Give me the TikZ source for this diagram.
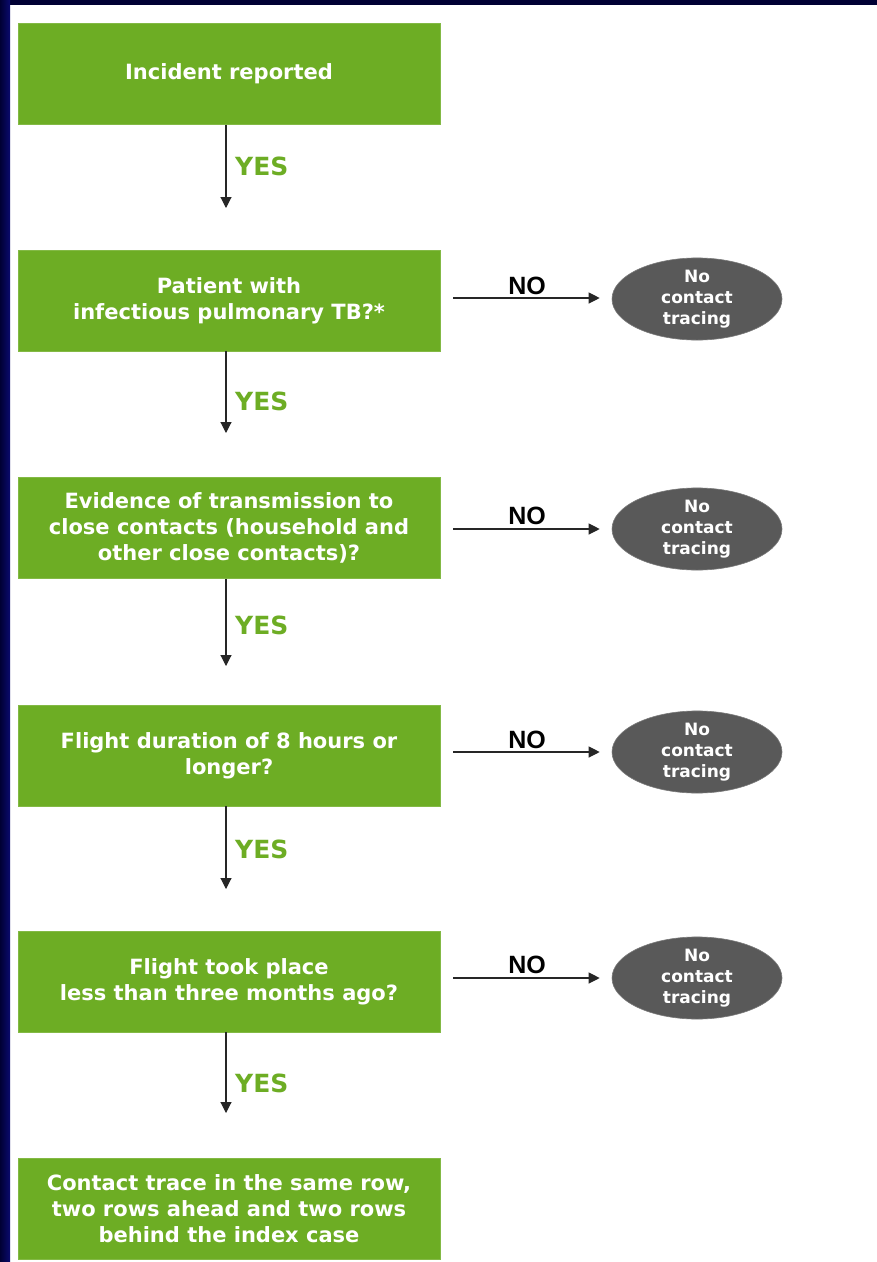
\documentclass[tikz,border=0pt]{standalone}
\usepackage{fontspec}
\setmainfont{DejaVu Sans}
\newfontfamily\labelfont{Liberation Sans}
\usetikzlibrary{arrows.meta,shapes.geometric}
\definecolor{boxgreen}{RGB}{109,173,36}
\definecolor{ovalgrey}{RGB}{89,89,89}
\definecolor{frameblue}{RGB}{0,0,52}
\tikzset{
  stepbox/.style={rectangle, fill=boxgreen, draw=boxgreen!85!white, line width=0.6pt,
    minimum width=422pt, minimum height=101pt, text=white, align=center,
    font=\fontsize{21}{26}\selectfont\bfseries, inner sep=0pt},
  endoval/.style={ellipse, fill=ovalgrey, draw=ovalgrey!80!white, line width=0.6pt,
    minimum width=170pt, minimum height=74pt, text=white, align=center,
    font=\fontsize{17}{21}\selectfont\bfseries, inner sep=0pt},
  flow/.style={draw=black!85, line width=1.1pt, -{Triangle[length=11pt,width=11pt]}},
  yeslabel/.style={text=boxgreen, font=\fontsize{25}{25}\selectfont\bfseries, anchor=west, inner sep=0pt},
  nolabel/.style={text=black, font=\labelfont\fontsize{25}{25}\selectfont\bfseries, inner sep=0pt}
}
\begin{document}
\begin{tikzpicture}[x=1pt,y=-1pt]
\useasboundingbox (0,0) rectangle (877,1262);
\fill[white] (0,0) rectangle (877,1262);
% dark frame along the top and left edges
\fill[frameblue] (0,0) rectangle (877,5);
\shade[left color=frameblue, right color={rgb,255:red,10;green,10;blue,110}] (0,0) rectangle (10,1262);

% decision boxes
\node[stepbox] (b1) at (229,74) {Incident reported};
\node[stepbox] (b2) at (229,300.5) {Patient with\\infectious pulmonary TB?*};
\node[stepbox] (b3) at (229,528) {Evidence of transmission to\\close contacts (household and\\other close contacts)?};
\node[stepbox] (b4) at (229,755.5) {Flight duration of 8 hours or\\longer?};
\node[stepbox] (b5) at (229,981.5) {Flight took place\\less than three months ago?};
\node[stepbox] (b6) at (229,1209) {Contact trace in the same row,\\two rows ahead and two rows\\behind the index case};

% outcome ovals
\node[endoval] (o2) at (697,299) {No\\contact\\tracing};
\node[endoval] (o3) at (697,529) {No\\contact\\tracing};
\node[endoval] (o4) at (697,752) {No\\contact\\tracing};
\node[endoval] (o5) at (697,978) {No\\contact\\tracing};

% free ends of the YES arrows
\coordinate (y1) at (226,208);
\coordinate (y2) at (226,433);
\coordinate (y3) at (226,666);
\coordinate (y4) at (226,889);
\coordinate (y5) at (226,1113);

% YES arrows
\draw[flow] (b1.south -| y1) -- (y1);
\draw[flow] (b2.south -| y2) -- (y2);
\draw[flow] (b3.south -| y3) -- (y3);
\draw[flow] (b4.south -| y4) -- (y4);
\draw[flow] (b5.south -| y5) -- (y5);
\node[yeslabel] (t1) at (235,166) {YES};
\node[yeslabel] (t2) at (235,401) {YES};
\node[yeslabel] (t3) at (235,625) {YES};
\node[yeslabel] (t4) at (235,849) {YES};
\node[yeslabel] (t5) at (235,1083) {YES};

% NO arrows
\coordinate (n2) at (453,298);
\coordinate (n3) at (453,529);
\coordinate (n4) at (453,752);
\coordinate (n5) at (453,978);
\draw[flow] (n2) -- ([xshift=-12pt]o2.west |- n2);
\draw[flow] (n3) -- ([xshift=-12pt]o3.west |- n3);
\draw[flow] (n4) -- ([xshift=-12pt]o4.west |- n4);
\draw[flow] (n5) -- ([xshift=-12pt]o5.west |- n5);
\node[nolabel] (m2) at (527,286) {NO};
\node[nolabel] (m3) at (527,516) {NO};
\node[nolabel] (m4) at (527,740) {NO};
\node[nolabel] (m5) at (527,965) {NO};
\end{tikzpicture}
\end{document}
